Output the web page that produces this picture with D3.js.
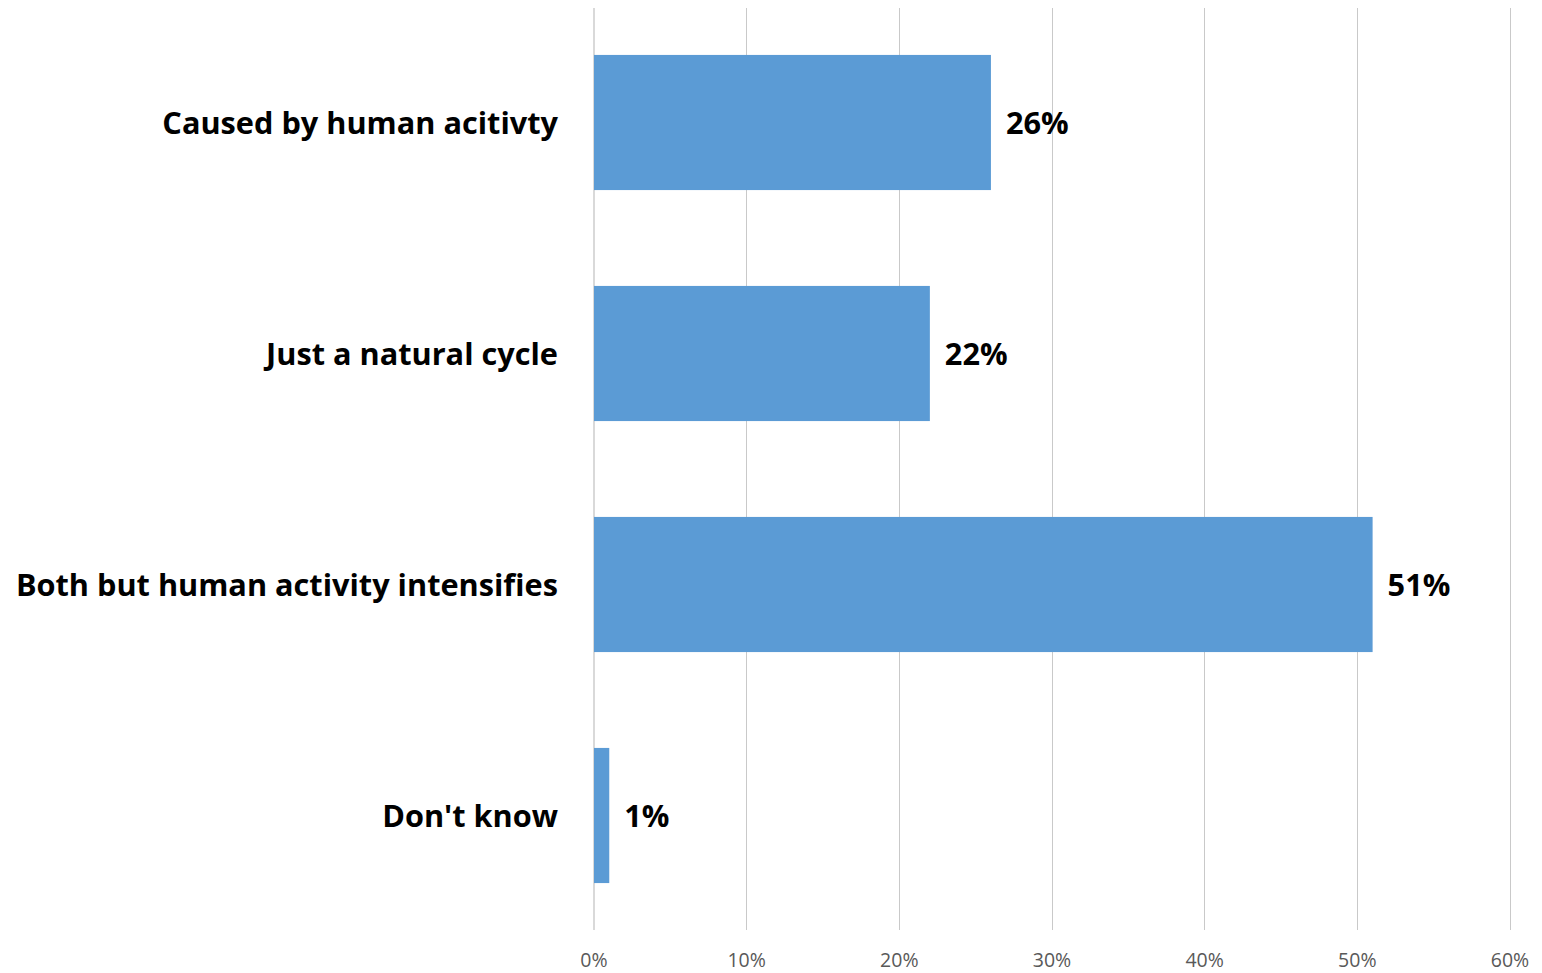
<!DOCTYPE html>
<html>
<head>
<meta charset="utf-8">
<script src="https://cdn.jsdelivr.net/npm/d3@7"></script>
<style>
  body { margin: 0; background: #fff; }
  svg { display: block; font-family: "Open Sans", "Noto Sans", sans-serif; }
</style>
</head>
<body>
<svg id="chart" width="1542" height="973"></svg>
<script>
// Survey answers, top to bottom
const categories = [
  "Caused by human acitivty",
  "Just a natural cycle",
  "Both but human activity intensifies",
  "Don't know"
];
const shares = [26, 22, 51, 1];
const ticks = [0, 10, 20, 30, 40, 50, 60];

const svg = d3.select("#chart");

// Plot area, in page pixels ("top" is a window global, so prefix these)
const plotLeft = 594;
const plotRight = 1510;
const plotTop = 7;
const plotBottom = 931;

const x = d3.scaleLinear().domain([0, 60]).range([plotLeft, plotRight]);
const y = d3.scaleBand()
  .domain(categories)
  .range([plotTop, plotBottom])
  .paddingInner(0.415)
  .paddingOuter(0.2075);

// Vertical gridlines
svg.append("g")
  .selectAll("line")
  .data(ticks)
  .join("line")
  .attr("x1", d => x(d))
  .attr("x2", d => x(d))
  .attr("y1", 8)
  .attr("y2", 930)
  .attr("stroke", d => d === 0 ? "#d9d9d9" : "#c9c9c9")
  .attr("stroke-width", d => d === 0 ? 2 : 1)
  .attr("shape-rendering", "crispEdges");

// Tick labels along the bottom (kept just inside the bottom edge)
svg.append("g")
  .selectAll("text")
  .data(ticks)
  .join("text")
  .attr("x", d => x(d))
  .attr("y", 960)
  .attr("dy", "0.35em")
  .attr("text-anchor", "middle")
  .attr("font-size", 19.5)
  .attr("fill", "#595959")
  .text(d => d + "%");

// Bars
const data = categories.map((c, i) => ({ category: c, value: shares[i] }));

svg.append("g")
  .selectAll("rect")
  .data(data)
  .join("rect")
  .attr("x", x(0))
  .attr("y", d => y(d.category))
  .attr("width", d => x(d.value) - x(0))
  .attr("height", y.bandwidth())
  .attr("fill", "#5b9bd5");

// Value labels just past the end of each bar
svg.append("g")
  .selectAll("text")
  .data(data)
  .join("text")
  .attr("x", d => x(d.value) + 15)
  .attr("y", d => y(d.category) + y.bandwidth() / 2 + 11.5)
  .attr("font-size", 30.7)
  .attr("font-weight", "bold")
  .attr("fill", "#000")
  .text(d => d.value + "%");

// Category labels on the left
svg.append("g")
  .selectAll("text")
  .data(data)
  .join("text")
  .attr("x", 558)
  .attr("y", d => y(d.category) + y.bandwidth() / 2 + 11.5)
  .attr("text-anchor", "end")
  .attr("font-size", 30.7)
  .attr("font-weight", "bold")
  .attr("fill", "#000")
  .text(d => d.category);
</script>
</body>
</html>
